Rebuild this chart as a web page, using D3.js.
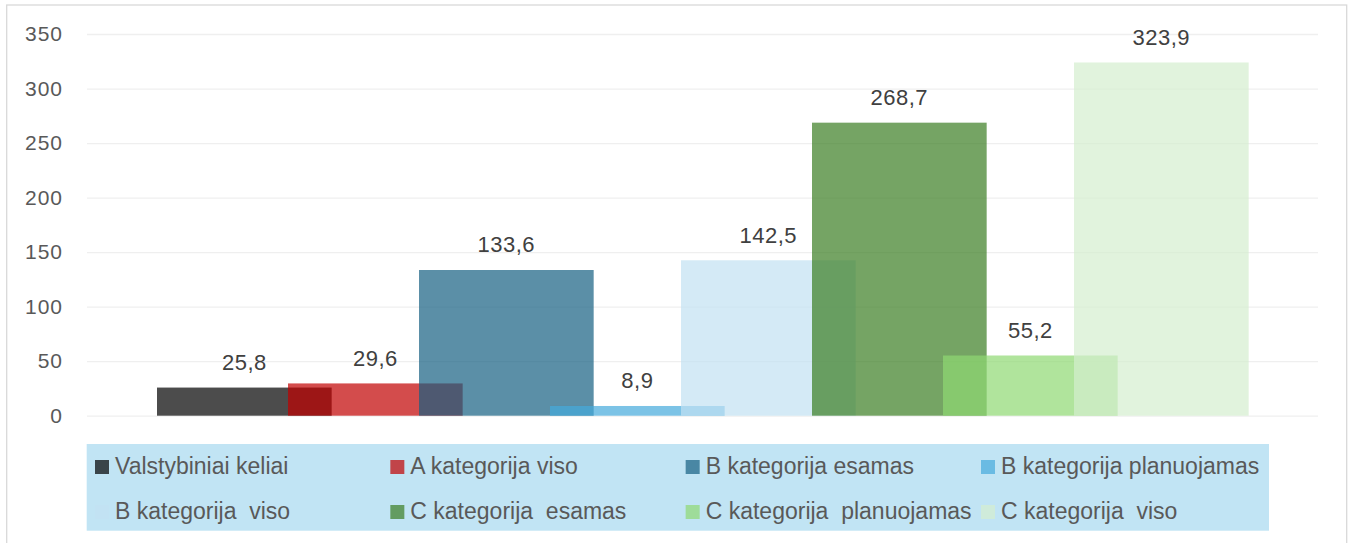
<!DOCTYPE html>
<html lang="lt">
  <head>
    <meta charset="utf-8">
    <title>Keliai pagal kategorijas</title>
    <style>
      body { margin: 0; background: #fff; }
      .tick text { font-family: "Liberation Sans", Arial, sans-serif; }
    </style>
    <script type="text/javascript" src="https://cdn.jsdelivr.net/npm/d3@7"></script>
  </head>
  <body>
  <svg width="1352" height="543"></svg>
    <script>
// data
var series = ["Valstybiniai keliai", "A kategorija viso", "B kategorija esamas", "B kategorija planuojamas",
              "B kategorija  viso", "C kategorija  esamas", "C kategorija  planuojamas", "C kategorija  viso"];
var values = [25.8, 29.6, 133.6, 8.9, 142.5, 268.7, 55.2, 323.9];
var colors = ["#000000", "#c00000", "#156082", "#45aadb", "#c2e1f2", "#3a7d22", "#8ed872", "#d4eece"];
var yTicks = [0, 50, 100, 150, 200, 250, 300, 350];

var svg = d3.select("svg");
var fmt = d3.formatLocale({decimal: ",", thousands: " ", grouping: [3], currency: ["", " €"]}).format(".1f");

// chart frame
svg.append("rect")
    .attr("x", 6.7).attr("y", 5)
    .attr("width", 1340).attr("height", 560)
    .attr("fill", "#fff")
    .attr("stroke", "#d9d9d9")
    .attr("stroke-width", 1.3);

var plot = {left: 87, right: 1318, top: 34, bottom: 415.7};

var yScale = d3.scaleLinear().domain([0, 350]).range([plot.bottom, plot.top]);
// one category, series bars overlapping by 25%
var overlap = 0.25;
var xScale = d3.scaleBand().domain(series).range([157, 157 + 8 * 131]).padding(0);
var barW = xScale.step() / (1 - overlap);

// gridlines + y labels
var yAxis = svg.append("g")
    .attr("transform", "translate(" + plot.left + ",0)")
    .call(d3.axisLeft(yScale).tickValues(yTicks)
        .tickSize(-(plot.right - plot.left)).tickPadding(24));
yAxis.select(".domain").remove();
yAxis.selectAll(".tick line").attr("stroke", "#efefef").attr("stroke-width", 1.3);
yAxis.selectAll(".tick text")
    .attr("fill", "#595959")
    .style("font-size", "21px")
    .style("letter-spacing", "1px");

// bars
svg.append("g").selectAll("rect")
    .data(values)
    .enter()
    .append("rect")
    .attr("x", function(d, i) { return xScale(series[i]); })
    .attr("y", function(d) { return yScale(d); })
    .attr("width", barW)
    .attr("height", function(d) { return yScale(0) - yScale(d); })
    .attr("fill", function(d, i) { return colors[i]; })
    .attr("fill-opacity", 0.7);

// data labels
svg.append("g").selectAll("text")
    .data(values)
    .enter()
    .append("text")
    .attr("x", function(d, i) { return xScale(series[i]) + barW / 2; })
    .attr("y", function(d) { return yScale(d) - 17.5; })
    .attr("text-anchor", "middle")
    .attr("fill", "#404040")
    .style("font-family", "'Liberation Sans', Arial, sans-serif")
    .style("font-size", "22px")
    .style("letter-spacing", "0.5px")
    .text(function(d) { return fmt(d); });

// legend
var legend = svg.append("g");
legend.append("rect")
    .attr("x", 86.7).attr("y", 444)
    .attr("width", 1269 - 86.7).attr("height", 86.7)
    .attr("fill", "#c1e4f4");

var colX = d3.scaleLinear().domain([0, 3]).range([95, 981]);
var items = legend.selectAll(".item")
    .data(series)
    .enter()
    .append("g")
    .attr("class", "item")
    .attr("transform", function(d, i) {
      return "translate(" + colX(i % 4) + "," + (i < 4 ? 460 : 505) + ")";
    });
items.append("rect")
    .attr("width", 14).attr("height", 14)
    .attr("fill", function(d, i) { return colors[i]; })
    .attr("fill-opacity", 0.7);
items.append("text")
    .attr("x", 20)
    .attr("y", 14.3)
    .attr("fill", "#595959")
    .style("font-family", "'Liberation Sans', Arial, sans-serif")
    .style("font-size", "23px")
    .style("white-space", "pre")
    .text(function(d) { return d; });

    </script>
  </body>
</html>
